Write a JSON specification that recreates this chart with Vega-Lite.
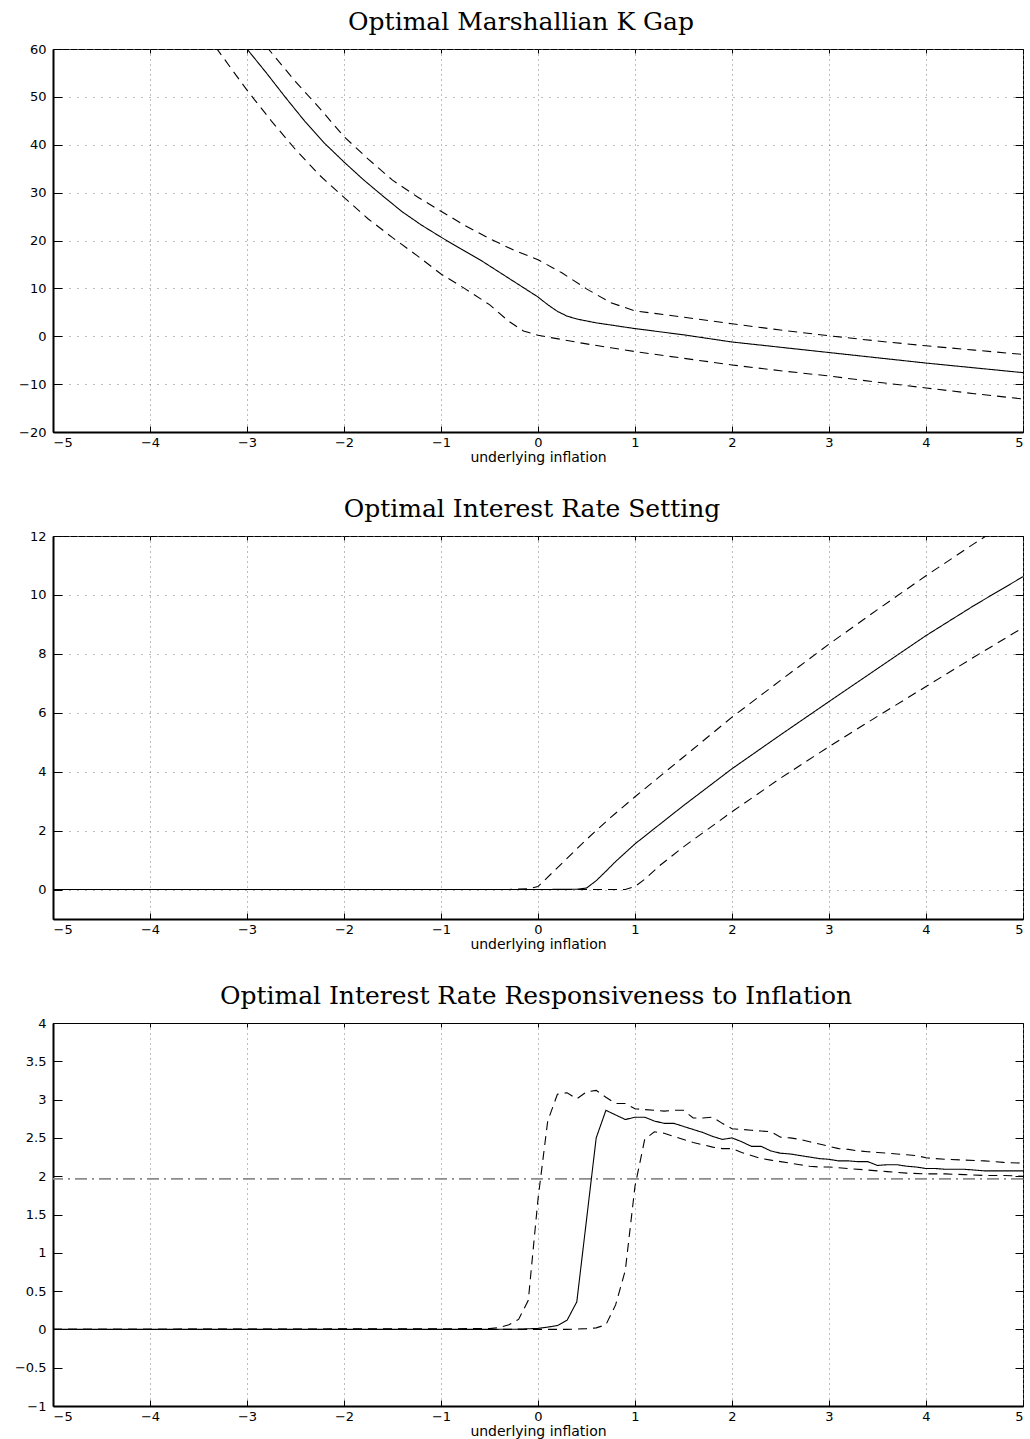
{
  "$schema": "https://vega.github.io/schema/vega-lite/v6.json",
  "padding": {"left": 13, "top": 9, "right": 0, "bottom": 2},
  "background": "white",
  "spacing": 31,
  "datasets": {
    "p1": [
      {"s":"mid","x":-3.05,"y":61.2},{"s":"mid","x":-3,"y":60},{"s":"mid","x":-2.8,"y":55},{"s":"mid","x":-2.6,"y":49.8},{"s":"mid","x":-2.4,"y":44.8},{"s":"mid","x":-2.2,"y":40.3},{"s":"mid","x":-2,"y":36.4},{"s":"mid","x":-1.8,"y":32.7},{"s":"mid","x":-1.6,"y":29.3},{"s":"mid","x":-1.4,"y":26.0},{"s":"mid","x":-1.2,"y":23.2},{"s":"mid","x":-1,"y":20.7},{"s":"mid","x":-0.8,"y":18.3},{"s":"mid","x":-0.6,"y":16.0},{"s":"mid","x":-0.4,"y":13.4},{"s":"mid","x":-0.2,"y":10.8},{"s":"mid","x":0,"y":8.2},{"s":"mid","x":0.1,"y":6.6},{"s":"mid","x":0.2,"y":5.2},{"s":"mid","x":0.3,"y":4.2},{"s":"mid","x":0.4,"y":3.6},{"s":"mid","x":0.6,"y":2.8},{"s":"mid","x":0.8,"y":2.2},{"s":"mid","x":1,"y":1.6},{"s":"mid","x":1.5,"y":0.3},{"s":"mid","x":2,"y":-1.2},{"s":"mid","x":2.5,"y":-2.3},{"s":"mid","x":3,"y":-3.4},{"s":"mid","x":3.5,"y":-4.5},{"s":"mid","x":4,"y":-5.6},{"s":"mid","x":4.5,"y":-6.6},{"s":"mid","x":5,"y":-7.6},
      {"s":"up","x":-2.8,"y":60.5},{"s":"up","x":-2.5,"y":53.2},{"s":"up","x":-2.25,"y":47.6},{"s":"up","x":-2,"y":41.7},{"s":"up","x":-1.75,"y":37.0},{"s":"up","x":-1.5,"y":32.6},{"s":"up","x":-1.25,"y":29.2},{"s":"up","x":-1,"y":26.1},{"s":"up","x":-0.75,"y":23.1},{"s":"up","x":-0.5,"y":20.4},{"s":"up","x":-0.25,"y":18.0},{"s":"up","x":0,"y":16.0},{"s":"up","x":0.25,"y":13.2},{"s":"up","x":0.5,"y":9.9},{"s":"up","x":0.75,"y":7.0},{"s":"up","x":1,"y":5.3},{"s":"up","x":1.5,"y":4.0},{"s":"up","x":2,"y":2.6},{"s":"up","x":2.5,"y":1.3},{"s":"up","x":3,"y":0.1},{"s":"up","x":3.5,"y":-1.0},{"s":"up","x":4,"y":-2.0},{"s":"up","x":4.5,"y":-2.9},{"s":"up","x":5,"y":-3.8},
      {"s":"lo","x":-3.32,"y":60.3},{"s":"lo","x":-3,"y":51.4},{"s":"lo","x":-2.75,"y":45.0},{"s":"lo","x":-2.5,"y":39.0},{"s":"lo","x":-2.25,"y":33.6},{"s":"lo","x":-2,"y":29.0},{"s":"lo","x":-1.75,"y":24.5},{"s":"lo","x":-1.5,"y":20.6},{"s":"lo","x":-1.25,"y":16.9},{"s":"lo","x":-1,"y":13.0},{"s":"lo","x":-0.75,"y":9.9},{"s":"lo","x":-0.5,"y":6.6},{"s":"lo","x":-0.3,"y":3.1},{"s":"lo","x":-0.15,"y":1.1},{"s":"lo","x":0,"y":0.2},{"s":"lo","x":0.25,"y":-0.7},{"s":"lo","x":0.5,"y":-1.6},{"s":"lo","x":0.75,"y":-2.4},{"s":"lo","x":1,"y":-3.2},{"s":"lo","x":1.5,"y":-4.6},{"s":"lo","x":2,"y":-6.0},{"s":"lo","x":2.5,"y":-7.2},{"s":"lo","x":3,"y":-8.3},{"s":"lo","x":3.5,"y":-9.6},{"s":"lo","x":4,"y":-10.8},{"s":"lo","x":4.5,"y":-12.0},{"s":"lo","x":5,"y":-13.1}
    ],
    "p2": [
      {"s":"mid","x":-5,"y":0},{"s":"mid","x":0,"y":0},{"s":"mid","x":0.4,"y":0.01},{"s":"mid","x":0.5,"y":0.05},{"s":"mid","x":0.6,"y":0.3},{"s":"mid","x":0.7,"y":0.62},{"s":"mid","x":0.8,"y":0.95},{"s":"mid","x":0.9,"y":1.25},{"s":"mid","x":1,"y":1.55},{"s":"mid","x":1.5,"y":2.85},{"s":"mid","x":2,"y":4.1},{"s":"mid","x":2.5,"y":5.25},{"s":"mid","x":3,"y":6.38},{"s":"mid","x":3.5,"y":7.5},{"s":"mid","x":4,"y":8.62},{"s":"mid","x":4.5,"y":9.65},{"s":"mid","x":5,"y":10.62},
      {"s":"up","x":-5,"y":0},{"s":"up","x":-0.3,"y":0},{"s":"up","x":-0.1,"y":0.03},{"s":"up","x":0,"y":0.1},{"s":"up","x":0.25,"y":0.9},{"s":"up","x":0.5,"y":1.7},{"s":"up","x":0.75,"y":2.45},{"s":"up","x":1,"y":3.15},{"s":"up","x":1.5,"y":4.5},{"s":"up","x":2,"y":5.85},{"s":"up","x":2.5,"y":7.1},{"s":"up","x":3,"y":8.33},{"s":"up","x":3.5,"y":9.5},{"s":"up","x":4,"y":10.65},{"s":"up","x":4.5,"y":11.75},{"s":"up","x":5,"y":12.8},
      {"s":"lo","x":-5,"y":0},{"s":"lo","x":0.9,"y":0},{"s":"lo","x":1,"y":0.1},{"s":"lo","x":1.1,"y":0.35},{"s":"lo","x":1.25,"y":0.8},{"s":"lo","x":1.5,"y":1.45},{"s":"lo","x":2,"y":2.64},{"s":"lo","x":2.5,"y":3.78},{"s":"lo","x":3,"y":4.85},{"s":"lo","x":3.5,"y":5.88},{"s":"lo","x":4,"y":6.89},{"s":"lo","x":4.5,"y":7.9},{"s":"lo","x":5,"y":8.89}
    ],
    "p3": [
      {"s":"mid","x":-5,"y":0},{"s":"mid","x":-0.5,"y":0},{"s":"mid","x":-0.2,"y":0.003},{"s":"mid","x":0,"y":0.013},{"s":"mid","x":0.1,"y":0.03},{"s":"mid","x":0.2,"y":0.05},{"s":"mid","x":0.3,"y":0.12},{"s":"mid","x":0.4,"y":0.36},{"s":"mid","x":0.5,"y":1.43},{"s":"mid","x":0.6,"y":2.5},{"s":"mid","x":0.7,"y":2.86},{"s":"mid","x":0.8,"y":2.8},{"s":"mid","x":0.9,"y":2.74},{"s":"mid","x":1.0,"y":2.77},{"s":"mid","x":1.1,"y":2.77},{"s":"mid","x":1.2,"y":2.72},{"s":"mid","x":1.3,"y":2.69},{"s":"mid","x":1.4,"y":2.69},{"s":"mid","x":1.5,"y":2.65},{"s":"mid","x":1.6,"y":2.61},{"s":"mid","x":1.7,"y":2.57},{"s":"mid","x":1.8,"y":2.52},{"s":"mid","x":1.9,"y":2.48},{"s":"mid","x":2.0,"y":2.5},{"s":"mid","x":2.1,"y":2.45},{"s":"mid","x":2.2,"y":2.39},{"s":"mid","x":2.3,"y":2.39},{"s":"mid","x":2.4,"y":2.33},{"s":"mid","x":2.5,"y":2.3},{"s":"mid","x":2.6,"y":2.29},{"s":"mid","x":2.7,"y":2.27},{"s":"mid","x":2.8,"y":2.25},{"s":"mid","x":2.9,"y":2.23},{"s":"mid","x":3.0,"y":2.22},{"s":"mid","x":3.1,"y":2.2},{"s":"mid","x":3.2,"y":2.2},{"s":"mid","x":3.3,"y":2.19},{"s":"mid","x":3.4,"y":2.19},{"s":"mid","x":3.5,"y":2.14},{"s":"mid","x":3.6,"y":2.15},{"s":"mid","x":3.7,"y":2.15},{"s":"mid","x":3.8,"y":2.13},{"s":"mid","x":3.9,"y":2.12},{"s":"mid","x":4.0,"y":2.1},{"s":"mid","x":4.1,"y":2.1},{"s":"mid","x":4.2,"y":2.09},{"s":"mid","x":4.3,"y":2.09},{"s":"mid","x":4.4,"y":2.09},{"s":"mid","x":4.5,"y":2.08},{"s":"mid","x":4.6,"y":2.07},{"s":"mid","x":4.8,"y":2.07},{"s":"mid","x":5.0,"y":2.07},
      {"s":"up","x":-5,"y":0},{"s":"up","x":-0.5,"y":0.01},{"s":"up","x":-0.4,"y":0.026},{"s":"up","x":-0.3,"y":0.06},{"s":"up","x":-0.2,"y":0.13},{"s":"up","x":-0.1,"y":0.38},{"s":"up","x":0,"y":1.7},{"s":"up","x":0.1,"y":2.72},{"s":"up","x":0.2,"y":3.07},{"s":"up","x":0.3,"y":3.09},{"s":"up","x":0.4,"y":3.01},{"s":"up","x":0.5,"y":3.1},{"s":"up","x":0.6,"y":3.12},{"s":"up","x":0.7,"y":3.03},{"s":"up","x":0.8,"y":2.95},{"s":"up","x":0.9,"y":2.95},{"s":"up","x":1.0,"y":2.88},{"s":"up","x":1.1,"y":2.87},{"s":"up","x":1.2,"y":2.86},{"s":"up","x":1.3,"y":2.85},{"s":"up","x":1.4,"y":2.86},{"s":"up","x":1.5,"y":2.86},{"s":"up","x":1.6,"y":2.76},{"s":"up","x":1.7,"y":2.76},{"s":"up","x":1.8,"y":2.77},{"s":"up","x":1.9,"y":2.69},{"s":"up","x":2.0,"y":2.62},{"s":"up","x":2.1,"y":2.61},{"s":"up","x":2.2,"y":2.6},{"s":"up","x":2.3,"y":2.59},{"s":"up","x":2.4,"y":2.58},{"s":"up","x":2.5,"y":2.51},{"s":"up","x":2.6,"y":2.5},{"s":"up","x":2.7,"y":2.48},{"s":"up","x":2.8,"y":2.45},{"s":"up","x":2.9,"y":2.42},{"s":"up","x":3.0,"y":2.39},{"s":"up","x":3.1,"y":2.36},{"s":"up","x":3.2,"y":2.35},{"s":"up","x":3.3,"y":2.33},{"s":"up","x":3.4,"y":2.32},{"s":"up","x":3.5,"y":2.31},{"s":"up","x":3.6,"y":2.3},{"s":"up","x":3.7,"y":2.29},{"s":"up","x":3.8,"y":2.28},{"s":"up","x":3.9,"y":2.27},{"s":"up","x":4.0,"y":2.24},{"s":"up","x":4.1,"y":2.23},{"s":"up","x":4.2,"y":2.22},{"s":"up","x":4.4,"y":2.21},{"s":"up","x":4.6,"y":2.2},{"s":"up","x":4.8,"y":2.18},{"s":"up","x":5.0,"y":2.17},
      {"s":"lo","x":-5,"y":0},{"s":"lo","x":0.3,"y":0},{"s":"lo","x":0.5,"y":0.01},{"s":"lo","x":0.6,"y":0.02},{"s":"lo","x":0.7,"y":0.06},{"s":"lo","x":0.8,"y":0.32},{"s":"lo","x":0.9,"y":0.77},{"s":"lo","x":1.0,"y":1.87},{"s":"lo","x":1.1,"y":2.48},{"s":"lo","x":1.2,"y":2.58},{"s":"lo","x":1.3,"y":2.56},{"s":"lo","x":1.4,"y":2.52},{"s":"lo","x":1.5,"y":2.48},{"s":"lo","x":1.6,"y":2.44},{"s":"lo","x":1.7,"y":2.41},{"s":"lo","x":1.8,"y":2.38},{"s":"lo","x":1.9,"y":2.36},{"s":"lo","x":2.0,"y":2.36},{"s":"lo","x":2.1,"y":2.31},{"s":"lo","x":2.2,"y":2.27},{"s":"lo","x":2.3,"y":2.23},{"s":"lo","x":2.4,"y":2.21},{"s":"lo","x":2.5,"y":2.19},{"s":"lo","x":2.6,"y":2.17},{"s":"lo","x":2.7,"y":2.15},{"s":"lo","x":2.8,"y":2.13},{"s":"lo","x":2.9,"y":2.12},{"s":"lo","x":3.0,"y":2.12},{"s":"lo","x":3.2,"y":2.1},{"s":"lo","x":3.4,"y":2.08},{"s":"lo","x":3.6,"y":2.06},{"s":"lo","x":3.8,"y":2.04},{"s":"lo","x":4.0,"y":2.03},{"s":"lo","x":4.2,"y":2.03},{"s":"lo","x":4.4,"y":2.02},{"s":"lo","x":4.6,"y":2.01},{"s":"lo","x":4.8,"y":2.01},{"s":"lo","x":5.0,"y":2.0}
    ],
    "ref": [{"y": 1.965}]
  },
  "vconcat": [
    {
      "width": 970, "height": 383,
      "title": {"text": "Optimal Marshallian K Gap", "dx": -17},
      "layer": [
        {
          "data": {"name": "p1"},
          "mark": {"type": "line", "clip": true, "color": "black", "strokeWidth": 1.1},
          "encoding": {
            "x": {"field": "x", "type": "quantitative", "scale": {"domain": [-5, 5], "nice": false, "zero": false}, "axis": {"title": "underlying inflation", "values": [-5,-4,-3,-2,-1,0,1,2,3,4,5]}},
            "y": {"field": "y", "type": "quantitative", "scale": {"domain": [-20, 60], "nice": false, "zero": false}, "axis": {"title": null, "values": [-20,-10,0,10,20,30,40,50,60]}},
            "strokeDash": {"field": "s", "type": "nominal", "scale": {"domain": ["mid","up","lo"], "range": [[1,0],[9,6],[9,6]]}, "legend": null}
          }
        },
        {
          "data": {"name": "p1"},
          "mark": {"type": "point", "opacity": 0, "clip": true},
          "encoding": {
            "x": {"field": "x", "type": "quantitative", "scale": {"domain": [-5, 5], "nice": false, "zero": false}, "axis": {"orient": "top", "labels": false, "grid": false, "domain": false, "title": null, "tickSize": -4, "values": [-5,-4,-3,-2,-1,0,1,2,3,4,5]}},
            "y": {"field": "y", "type": "quantitative", "scale": {"domain": [-20, 60], "nice": false, "zero": false}, "axis": {"orient": "right", "labels": false, "grid": false, "domain": false, "title": null, "tickSize": -8, "values": [-20,-10,0,10,20,30,40,50,60]}}
          }
        }
      ],
      "resolve": {"axis": {"x": "independent", "y": "independent"}}
    },
    {
      "width": 970, "height": 383,
      "title": {"text": "Optimal Interest Rate Setting", "dx": -6},
      "layer": [
        {
          "data": {"name": "p2"},
          "mark": {"type": "line", "clip": true, "color": "black", "strokeWidth": 1.1},
          "encoding": {
            "x": {"field": "x", "type": "quantitative", "scale": {"domain": [-5, 5], "nice": false, "zero": false}, "axis": {"title": "underlying inflation", "values": [-5,-4,-3,-2,-1,0,1,2,3,4,5]}},
            "y": {"field": "y", "type": "quantitative", "scale": {"domain": [-1, 12], "nice": false, "zero": false}, "axis": {"title": null, "values": [0,2,4,6,8,10,12]}},
            "strokeDash": {"field": "s", "type": "nominal", "scale": {"domain": ["mid","up","lo"], "range": [[1,0],[9,6],[9,6]]}, "legend": null}
          }
        },
        {
          "data": {"name": "p2"},
          "mark": {"type": "point", "opacity": 0, "clip": true},
          "encoding": {
            "x": {"field": "x", "type": "quantitative", "scale": {"domain": [-5, 5], "nice": false, "zero": false}, "axis": {"orient": "top", "labels": false, "grid": false, "domain": false, "title": null, "tickSize": -4, "values": [-5,-4,-3,-2,-1,0,1,2,3,4,5]}},
            "y": {"field": "y", "type": "quantitative", "scale": {"domain": [-1, 12], "nice": false, "zero": false}, "axis": {"orient": "right", "labels": false, "grid": false, "domain": false, "title": null, "tickSize": -8, "values": [0,2,4,6,8,10,12]}}
          }
        }
      ],
      "resolve": {"axis": {"x": "independent", "y": "independent"}}
    },
    {
      "width": 970, "height": 383,
      "title": {"text": "Optimal Interest Rate Responsiveness to Inflation", "dx": -2},
      "layer": [
        {
          "data": {"name": "ref"},
          "mark": {"type": "rule", "color": "#8c8c8c", "strokeWidth": 1.6, "strokeDash": [12, 5, 2, 5]},
          "encoding": {
            "y": {"field": "y", "type": "quantitative", "scale": {"domain": [-1, 4], "nice": false, "zero": false}, "axis": null}
          }
        },
        {
          "data": {"name": "p3"},
          "mark": {"type": "line", "clip": true, "color": "black", "strokeWidth": 1.1},
          "encoding": {
            "x": {"field": "x", "type": "quantitative", "scale": {"domain": [-5, 5], "nice": false, "zero": false}, "axis": {"title": "underlying inflation", "values": [-5,-4,-3,-2,-1,0,1,2,3,4,5]}},
            "y": {"field": "y", "type": "quantitative", "scale": {"domain": [-1, 4], "nice": false, "zero": false}, "axis": {"title": null, "format": "~g", "values": [-1,-0.5,0,0.5,1,1.5,2,2.5,3,3.5,4]}},
            "strokeDash": {"field": "s", "type": "nominal", "scale": {"domain": ["mid","up","lo"], "range": [[1,0],[9,6],[9,6]]}, "legend": null}
          }
        },
        {
          "data": {"name": "p3"},
          "mark": {"type": "point", "opacity": 0, "clip": true},
          "encoding": {
            "x": {"field": "x", "type": "quantitative", "scale": {"domain": [-5, 5], "nice": false, "zero": false}, "axis": {"orient": "top", "labels": false, "grid": false, "domain": false, "title": null, "tickSize": -4, "values": [-5,-4,-3,-2,-1,0,1,2,3,4,5]}},
            "y": {"field": "y", "type": "quantitative", "scale": {"domain": [-1, 4], "nice": false, "zero": false}, "axis": {"orient": "right", "labels": false, "grid": false, "domain": false, "title": null, "tickSize": -8, "values": [-1,-0.5,0,0.5,1,1.5,2,2.5,3,3.5,4]}}
          }
        }
      ],
      "resolve": {"axis": {"x": "independent", "y": "independent"}}
    }
  ],
  "config": {
    "view": {"stroke": "black", "strokeWidth": 1},
    "axis": {
      "labelFont": "DejaVu Sans", "labelFontSize": 13, "labelColor": "black",
      "tickColor": "black", "domainColor": "black", "domainWidth": 2,
      "gridColor": "#7a7a7a", "gridWidth": 1, "gridOpacity": 1,
      "titleFont": "DejaVu Sans", "titleFontSize": 14, "titleFontWeight": "normal", "titleColor": "black"
    },
    "axisX": {"gridDash": [1, 4], "tickSize": -6, "labelPadding": 10, "titlePadding": 1},
    "axisY": {"gridDash": [1, 7], "tickSize": -9, "labelPadding": 16},
    "title": {"font": "DejaVu Serif", "fontSize": 25, "fontWeight": "normal", "color": "black", "offset": 8}
  }
}
